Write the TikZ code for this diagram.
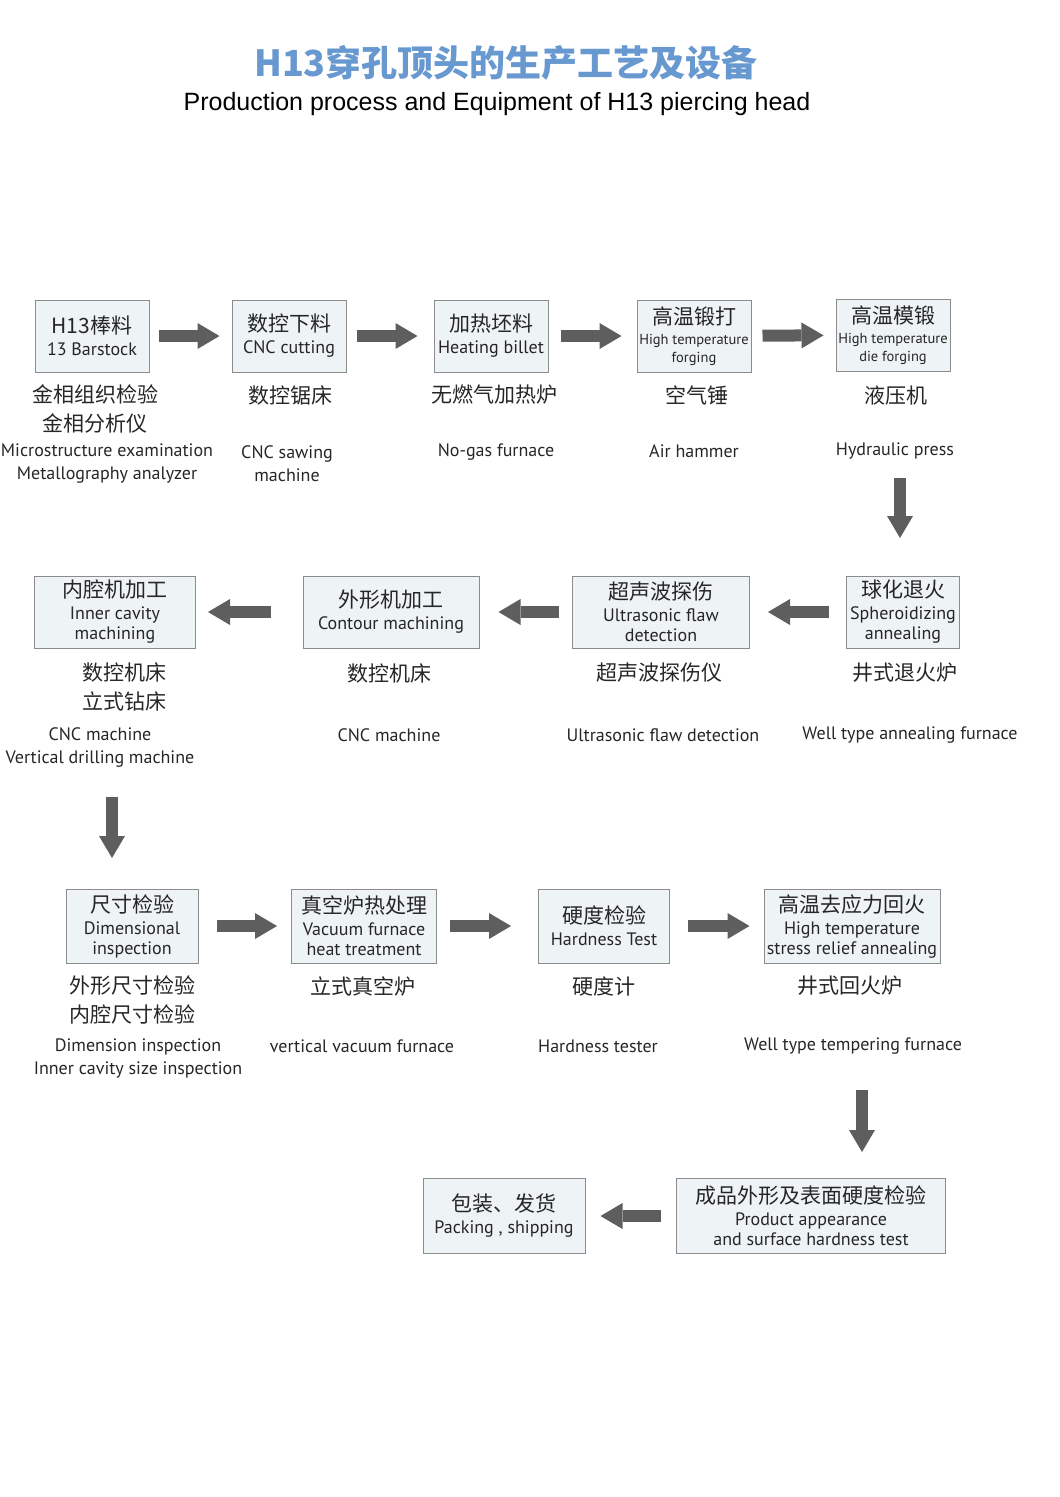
\documentclass[tikz,border=0pt]{standalone}
\usepackage{fontspec}
\setmainfont{PT Sans}
\newfontfamily\zh{Noto Sans CJK SC}
\newfontfamily\arialfont{Liberation Sans}
\usetikzlibrary{arrows.meta}

\definecolor{boxfill}{HTML}{EEF3F6}
\definecolor{boxline}{HTML}{8C8C8C}
\definecolor{arrowgray}{HTML}{5E5E5E}
\definecolor{titleblue}{RGB}{104,152,208}
\definecolor{textgray}{HTML}{262626}

% Chinese first line inside a box
\newcommand{\zhline}[1]{{\zh\fontsize{21}{24}\selectfont #1}\\[2pt]}

\begin{document}
\begin{tikzpicture}[x=1pt, y=-1pt,
    stepbox/.style={draw=boxline, line width=1pt, fill=boxfill, align=center,
        inner sep=1pt, text=textgray, font=\fontsize{18}{20}\selectfont},
    smallbox/.style={stepbox, font=\fontsize{14.5}{18}\selectfont},
    zhnote/.style={font=\zh\fontsize{21}{29}\selectfont, align=center, text=textgray},
    ennote/.style={font=\fontsize{18}{23}\selectfont, align=center, text=textgray},
    flow/.style={draw=arrowgray, line width=12pt,
        -{Triangle[length=22pt, width=26pt, line width=0pt]}},
    ]

    % 0. Page frame
    \useasboundingbox (0,0) rectangle (1060,1497);

    % 1. Title
    \node[font=\zh\bfseries\fontsize{36}{40}\selectfont, text=titleblue] (title) at (506,63)
        {H13穿孔顶头的生产工艺及设备};
    \node[font=\arialfont\fontsize{25}{28}\selectfont, text=black] (subtitle) at (497,104)
        {Production process and Equipment of H13 piercing head};

    % 2. First row of steps
    \node[stepbox, minimum width=114, minimum height=72] (B1) at (92,336)
        {\zhline{H13棒料}13 Barstock};
    \node[stepbox, minimum width=114, minimum height=72] (B2) at (289,336)
        {\zhline{数控下料}CNC cutting};
    \node[stepbox, minimum width=114, minimum height=72] (B3) at (491,336)
        {\zhline{加热坯料}Heating billet};
    \node[smallbox, minimum width=114, minimum height=72] (B4) at (694,336)
        {\zhline{高温锻打}High temperature\\forging};
    \node[smallbox, minimum width=114, minimum height=72] (B5) at (893,335)
        {\zhline{高温模锻}High temperature\\die forging};

    \node[zhnote] (B1zh) at (95,409) {金相组织检验\\金相分析仪};
    \node[ennote] (B1en) at (107,464) {Microstructure examination\\Metallography analyzer};
    \node[zhnote] (B2zh) at (290,395) {数控锯床};
    \node[ennote] (B2en) at (287,464) {CNC sawing\\machine};
    \node[zhnote] (B3zh) at (494,395) {无燃气加热炉};
    \node[ennote] (B3en) at (496,452) {No-gas furnace};
    \node[zhnote] (B4zh) at (697,395) {空气锤};
    \node[ennote] (B4en) at (694,451) {Air hammer};
    \node[zhnote] (B5zh) at (896,395) {液压机};
    \node[ennote] (B5en) at (895,451) {Hydraulic press};

    \draw[flow, shorten <=9pt, shorten >=12pt] (B1) -- (B2);
    \draw[flow, shorten <=10pt, shorten >=16pt] (B2) -- (B3);
    \draw[flow, shorten <=12pt, shorten >=15pt] (B3) -- (B4);
    \draw[flow, shorten <=11pt, shorten >=12pt] (B4) -- (B5);

    % 3. Turn down to the second row
    \coordinate (T1a) at (900,478);
    \coordinate (T1b) at (900,538);
    \draw[flow] (T1a) -- (T1b);

    % 4. Second row, right to left
    \node[stepbox, minimum width=113, minimum height=72] (C4) at (903,612)
        {\zhline{球化退火}Spheroidizing\\annealing};
    \node[stepbox, minimum width=177, minimum height=72] (C3) at (661,612)
        {\zhline{超声波探伤}Ultrasonic flaw\\detection};
    \node[stepbox, minimum width=176, minimum height=72] (C2) at (391,612)
        {\zhline{外形机加工}Contour machining};
    \node[stepbox, minimum width=161, minimum height=72] (C1) at (115,612)
        {\zhline{内腔机加工}Inner cavity\\machining};

    \node[zhnote] (C1zh) at (124,687) {数控机床\\立式钻床};
    \node[ennote] (C1en) at (100,747) {CNC machine\\Vertical drilling machine};
    \node[zhnote] (C2zh) at (389,673) {数控机床};
    \node[ennote] (C2en) at (389,735) {CNC machine};
    \node[zhnote] (C3zh) at (659,673) {超声波探伤仪};
    \node[ennote] (C3en) at (663,735) {Ultrasonic flaw detection};
    \node[zhnote] (C4zh) at (905,673) {井式退火炉};
    \node[ennote] (C4en) at (910,735) {Well type annealing furnace};

    \draw[flow, shorten <=17pt, shorten >=18pt] (C4) -- (C3);
    \draw[flow, shorten <=13pt, shorten >=19pt] (C3) -- (C2);
    \draw[flow, shorten <=32pt, shorten >=12pt] (C2) -- (C1);

    % 5. Turn down to the third row
    \coordinate (T2a) at (112,797);
    \coordinate (T2b) at (112,858);
    \draw[flow] (T2a) -- (T2b);

    % 6. Third row, left to right
    \node[stepbox, minimum width=132, minimum height=74] (D1) at (132,926)
        {\zhline{尺寸检验}Dimensional\\inspection};
    \node[stepbox, minimum width=145, minimum height=74] (D2) at (364,926)
        {\zhline{真空炉热处理}Vacuum furnace\\heat treatment};
    \node[stepbox, minimum width=131, minimum height=74] (D3) at (604,926)
        {\zhline{硬度检验}Hardness Test};
    \node[stepbox, minimum width=176, minimum height=74] (D4) at (852,926)
        {\zhline{高温去应力回火}High temperature\\stress relief annealing};

    \node[zhnote] (D1zh) at (132,1000) {外形尺寸检验\\内腔尺寸检验};
    \node[ennote] (D1en) at (138,1058) {Dimension inspection\\Inner cavity size inspection};
    \node[zhnote] (D2zh) at (363,986) {立式真空炉};
    \node[ennote] (D2en) at (362,1046) {vertical vacuum furnace};
    \node[zhnote] (D3zh) at (604,986) {硬度计};
    \node[ennote] (D3en) at (598,1046) {Hardness tester};
    \node[zhnote] (D4zh) at (850,986) {井式回火炉};
    \node[ennote] (D4en) at (853,1046) {Well type tempering furnace};

    \draw[flow, shorten <=18pt, shorten >=14pt] (D1) -- (D2);
    \draw[flow, shorten <=13pt, shorten >=27pt] (D2) -- (D3);
    \draw[flow, shorten <=18pt, shorten >=14pt] (D3) -- (D4);

    % 7. Turn down to the last row
    \coordinate (T3a) at (862,1090);
    \coordinate (T3b) at (862,1152);
    \draw[flow] (T3a) -- (T3b);

    % 8. Last row, right to left
    \node[stepbox, minimum width=269, minimum height=75] (E2) at (811,1216)
        {\zhline{成品外形及表面硬度检验}Product appearance\\and surface hardness test};
    \node[stepbox, minimum width=162, minimum height=75] (E1) at (504,1216)
        {\zhline{包装、发货}Packing , shipping};

    \draw[flow, shorten <=15pt, shorten >=15pt] (E2) -- (E1);

\end{tikzpicture}
\end{document}
